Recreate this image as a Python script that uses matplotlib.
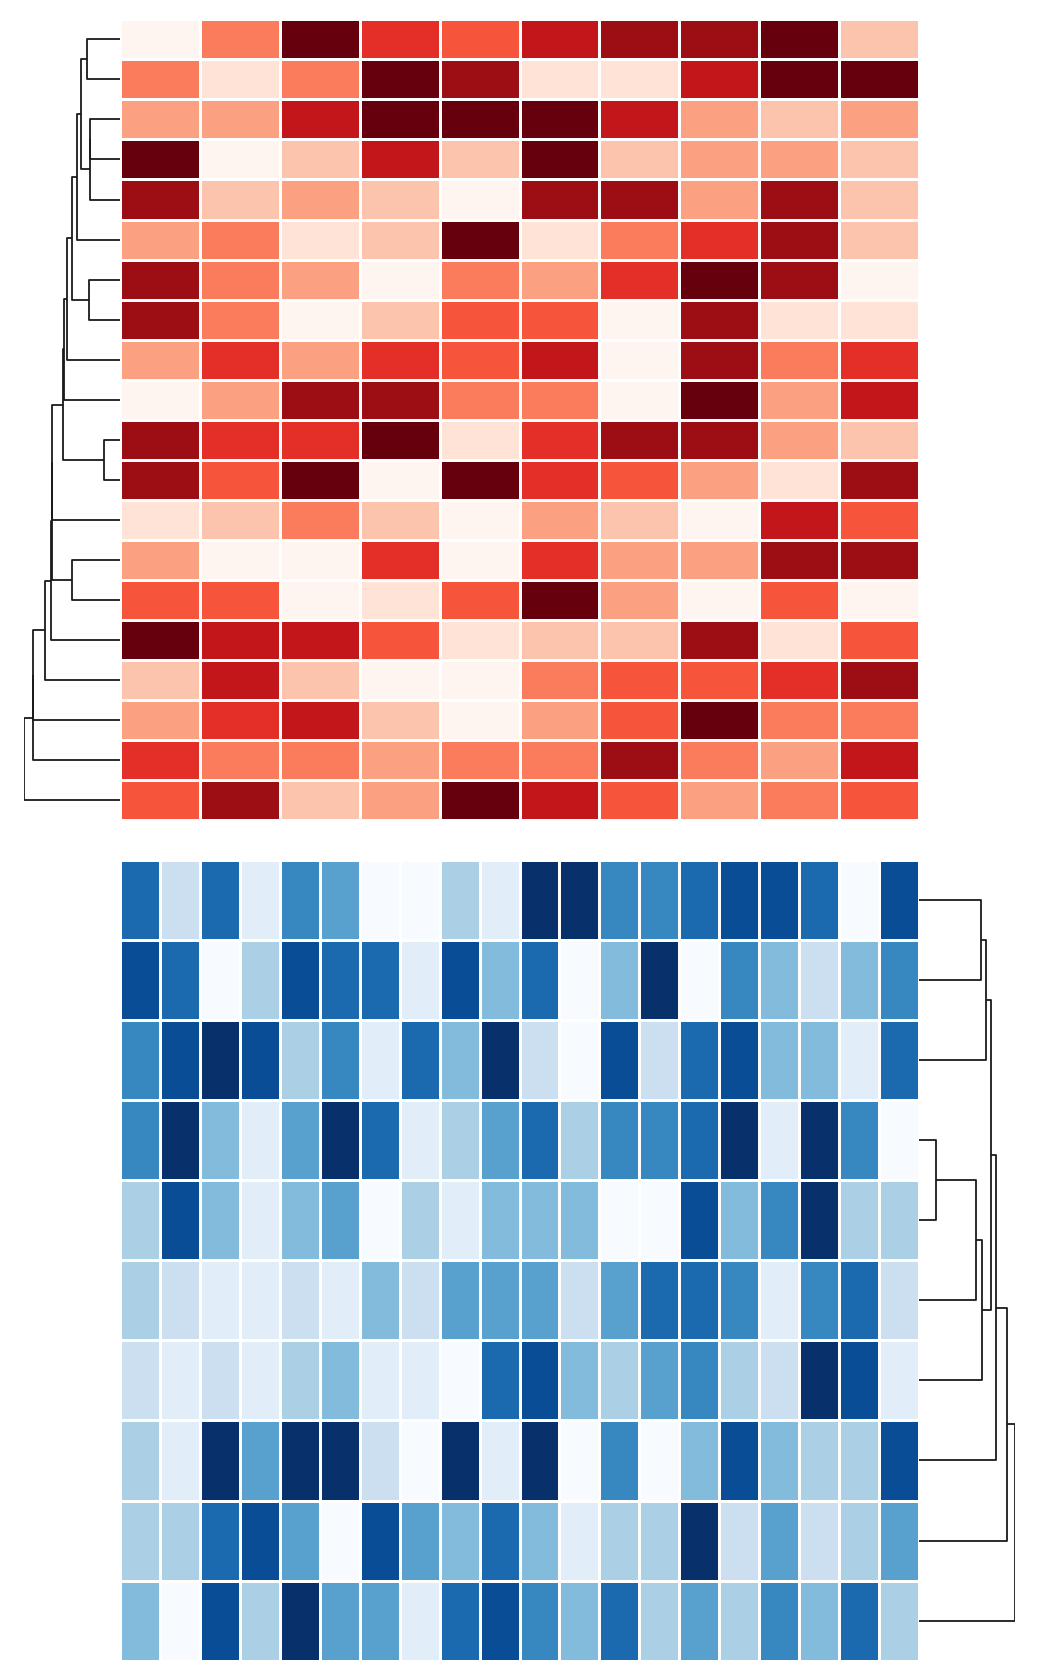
import numpy as np
import matplotlib
matplotlib.use("Agg")
import matplotlib.pyplot as plt

reds = [
 [0,4,9,6,5,7,8,8,9,2],
 [4,1,4,9,8,1,1,7,9,9],
 [3,3,7,9,9,9,7,3,2,3],
 [9,0,2,7,2,9,2,3,3,2],
 [8,2,3,2,0,8,8,3,8,2],
 [3,4,1,2,9,1,4,6,8,2],
 [8,4,3,0,4,3,6,9,8,0],
 [8,4,0,2,5,5,0,8,1,1],
 [3,6,3,6,5,7,0,8,4,6],
 [0,3,8,8,4,4,0,9,3,7],
 [8,6,6,9,1,6,8,8,3,2],
 [8,5,9,0,9,6,5,3,1,8],
 [1,2,4,2,0,3,2,0,7,5],
 [3,0,0,6,0,6,3,3,8,8],
 [5,5,0,1,5,9,3,0,5,0],
 [9,7,7,5,1,2,2,8,1,5],
 [2,7,2,0,0,4,5,5,6,8],
 [3,6,7,2,0,3,5,9,4,4],
 [6,4,4,3,4,4,8,4,3,7],
 [5,8,2,3,9,7,5,3,4,5],
]
blues = [
 [7,2,7,1,6,5,0,0,3,1,9,9,6,6,7,8,8,7,0,8],
 [8,7,0,3,8,7,7,1,8,4,7,0,4,9,0,6,4,2,4,6],
 [6,8,9,8,3,6,1,7,4,9,2,0,8,2,7,8,4,4,1,7],
 [6,9,4,1,5,9,7,1,3,5,7,3,6,6,7,9,1,9,6,0],
 [3,8,4,1,4,5,0,3,1,4,4,4,0,0,8,4,6,9,3,3],
 [3,2,1,1,2,1,4,2,5,5,5,2,5,7,7,6,1,6,7,2],
 [2,1,2,1,3,4,1,1,0,7,8,4,3,5,6,3,2,9,8,1],
 [3,1,9,5,9,9,2,0,9,1,9,0,6,0,4,8,4,3,3,8],
 [3,3,7,8,5,0,8,5,4,7,4,1,3,3,9,2,5,2,3,5],
 [4,0,8,3,9,5,5,1,7,8,6,4,7,3,5,3,6,4,7,3],
]
top_merges = [
 (0,1,99),(2,3,90),(21,4,91),(20,22,117),(23,5,129),(6,7,94),(24,25,142),
 (26,8,159),(27,9,167),(10,11,48),(28,29,169),(30,12,202),(13,14,142),
 (31,32,204),(33,15,205),(34,16,224),(35,17,259),(36,18,261),(37,19,286),
]
bot_merges = [
 (0,1,186),(10,2,201),(3,4,51),(12,5,171),(13,6,189),(11,14,216),
 (15,7,231),(16,8,263),(17,9,287),
]

def draw_dendro(ax, merges, n):
    pos = {i: i + 0.5 for i in range(n)}
    hgt = {i: 0.0 for i in range(n)}
    for k, (a, b, h) in enumerate(merges):
        ax.plot([hgt[a], h, h, hgt[b]], [pos[a], pos[a], pos[b], pos[b]],
                color='#1a1a1a', lw=1.3, solid_capstyle='butt')
        pos[n + k] = (pos[a] + pos[b]) / 2
        hgt[n + k] = h
    ax.set_ylim(n, 0)
    ax.axis('off')

W, H = 1039, 1679
fig = plt.figure(figsize=(W/100, H/100), dpi=100)
hx, hw = 0.1155, 0.769
dw = 0.0928

ax1 = fig.add_axes([hx, 0.5115, hw, 0.477])
ax1.pcolormesh(np.array(reds)/9, cmap='Reds', vmin=0, vmax=1, edgecolors='white', linewidth=2)
ax1.set_ylim(len(reds), 0); ax1.axis('off')
d1 = fig.add_axes([hx - dw, 0.5115, dw, 0.477])
draw_dendro(d1, top_merges, 20)
d1.set_xlim(288, 0)

ax2 = fig.add_axes([hx, 0.0109, hw, 0.477])
ax2.pcolormesh(np.array(blues)/9, cmap='Blues', vmin=0, vmax=1, edgecolors='white', linewidth=2)
ax2.set_ylim(len(blues), 0); ax2.axis('off')
d2 = fig.add_axes([hx + hw, 0.0109, dw, 0.477])
draw_dendro(d2, bot_merges, 10)
d2.set_xlim(0, 289)

fig.savefig('out.png', dpi=100, facecolor='white')
